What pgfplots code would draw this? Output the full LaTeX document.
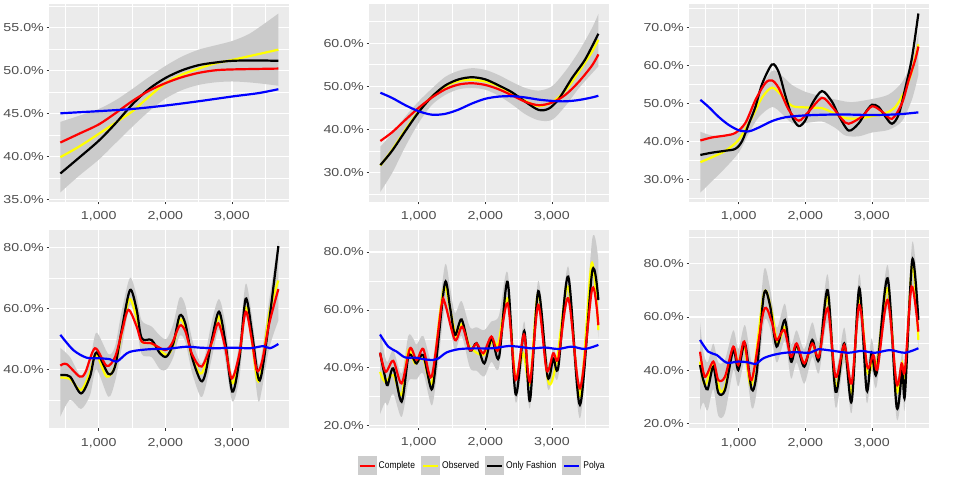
\documentclass[border=0pt]{standalone}
\usepackage{fontspec}
\setmainfont{Liberation Sans}
\usepackage{graphicx}
\usepackage{pgfplots}
\pgfplotsset{compat=1.18}
\usepgfplotslibrary{fillbetween}
\definecolor{panelbg}{HTML}{EBEBEB}
\definecolor{rib}{HTML}{CBCBCB}
\definecolor{txt}{HTML}{4D4D4D}
\definecolor{tk}{HTML}{333333}
\definecolor{keybg}{HTML}{CDCDCD}
\definecolor{cyel}{HTML}{FFFF00}
\definecolor{cred}{HTML}{FF0000}
\definecolor{cblu}{HTML}{0000FF}
\pgfplotsset{
 gg/.style={
  scale only axis, width=240bp,
  axis background/.style={fill=panelbg},
  axis line style={draw=none},
  xmin=259, xmax=3860,
  xtick={1000,2000,3000}, minor xtick={500,1500,2500,3500},
  grid=both,
  major grid style={white, line width=1.1bp},
  minor grid style={white, line width=0.55bp},
  tick align=outside, major tick length=2.7bp, minor tick length=0pt,
  tick pos=left,
  major tick style={draw=tk, line width=0.6bp},
  /pgf/number format/assume math mode=true,
  xticklabel={\scalebox{1.23}[1]{\pgfmathprintnumber[fixed,precision=0,1000 sep={,}]{\tick}}},
  yticklabel={\scalebox{1.23}[1]{\pgfmathprintnumber[fixed,fixed zerofill,precision=1]{\tick}\%}},
  tick label style={font=\fontsize{11.6}{12}\selectfont, text=txt},
  xticklabel style={anchor=north, inner sep=0pt, yshift=-7bp},
  yticklabel style={anchor=east, inner sep=0pt, xshift=-2.6bp},
  every axis plot/.append style={line width=2.2bp, smooth},
 },
 ribU/.style={name path=U, draw=none, forget plot},
 ribL/.style={name path=L, draw=none, forget plot},
 ly/.style={cyel, forget plot},
 lk/.style={black, forget plot},
 lr/.style={cred, forget plot},
 lb/.style={cblu, forget plot},
}
\begin{document}
\begin{tikzpicture}
\path (0bp,0bp) rectangle (960bp,480bp);
% ---------------- Panel 1
\begin{axis}[gg, at={(49.3bp,278.3bp)}, anchor=south west, height=197.7bp,
  ymin=34.72, ymax=57.71, ytick={35,40,45,50,55}, minor ytick={37.5,42.5,47.5,52.5,57.5}]
\addplot[ribU] coordinates {(425,44.0)(700,44.7)(1000,45.5)(1250,46.5)(1500,47.8)(1750,49.2)(2000,50.5)(2250,51.6)(2500,52.4)(2750,52.9)(3000,53.4)(3250,54.2)(3500,55.5)(3696,56.6)};
\addplot[ribL] coordinates {(425,35.8)(700,37.7)(1000,39.6)(1250,41.5)(1500,43.4)(1750,45.2)(2000,46.7)(2250,47.7)(2500,48.3)(2750,48.6)(3000,48.7)(3250,48.6)(3500,48.4)(3696,48.2)};
\addplot[fill=rib, draw=none, forget plot] fill between[of=U and L];
\addplot[ly] coordinates {(425,39.9)(700,41.1)(1000,42.6)(1250,43.9)(1500,45.2)(1750,46.9)(2000,48.5)(2250,49.5)(2500,50.2)(2750,50.8)(3000,51.2)(3350,51.8)(3696,52.4)};
\addplot[lk] coordinates {(425,38.0)(700,39.8)(1000,41.8)(1250,43.8)(1500,46.0)(1750,47.8)(2000,49.1)(2250,50.0)(2500,50.6)(2750,50.9)(3000,51.1)(3350,51.15)(3696,51.1)};
\addplot[lr] coordinates {(425,41.6)(700,42.6)(1000,43.7)(1250,45.0)(1500,46.4)(1750,47.6)(2000,48.5)(2250,49.2)(2500,49.7)(2750,50.0)(3000,50.1)(3696,50.2)};
\addplot[lb] coordinates {(425,45.0)(1000,45.25)(1500,45.5)(2000,45.9)(2500,46.4)(3000,46.95)(3400,47.35)(3696,47.8)};
\end{axis}
% ---------------- Panel 2
\begin{axis}[gg, at={(369.3bp,278.3bp)}, anchor=south west, height=197.7bp,
  ymin=23.2, ymax=69.1, ytick={30,40,50,60}, minor ytick={25,35,45,55,65}]
\addplot[ribU] coordinates {(425,36.0)(600,39.0)(800,43.0)(1000,46.5)(1200,49.5)(1400,52.2)(1600,53.6)(1800,54.2)(2000,53.8)(2200,52.6)(2400,51.0)(2600,49.6)(2800,49.0)(3000,50.0)(3200,53.5)(3400,58.0)(3600,63.5)(3696,66.8)};
\addplot[ribL] coordinates {(425,25.5)(600,29.8)(800,36.0)(1000,41.5)(1200,45.7)(1400,48.0)(1600,49.3)(1800,49.6)(2000,49.2)(2200,47.8)(2400,45.8)(2600,43.5)(2800,42.1)(3000,42.2)(3200,45.4)(3400,49.5)(3600,53.0)(3696,54.6)};
\addplot[fill=rib, draw=none, forget plot] fill between[of=U and L];
\addplot[ly] coordinates {(425,31.6)(600,35.2)(800,39.9)(1000,44.2)(1200,47.6)(1400,50.0)(1600,51.2)(1800,51.5)(2000,51.1)(2200,50.0)(2400,48.4)(2600,46.6)(2800,45.4)(3000,46.3)(3200,49.0)(3400,53.3)(3600,58.0)(3696,60.8)};
\addplot[lk] coordinates {(425,31.7)(600,35.0)(800,39.6)(1000,44.0)(1200,47.6)(1400,50.2)(1600,51.6)(1800,52.1)(2000,51.6)(2200,50.2)(2400,48.6)(2600,46.4)(2800,44.5)(2950,44.8)(3100,47.0)(3300,51.9)(3500,56.3)(3696,62.2)};
\addplot[lr] coordinates {(425,37.3)(600,39.3)(800,42.2)(1000,45.0)(1200,47.4)(1400,49.3)(1600,50.4)(1800,50.7)(2000,50.3)(2200,49.3)(2400,47.9)(2600,46.4)(2800,45.6)(3000,46.2)(3200,48.0)(3400,51.0)(3600,54.8)(3696,57.4)};
\addplot[lb] coordinates {(425,48.5)(600,47.3)(800,45.6)(1000,44.2)(1200,43.4)(1400,43.6)(1600,44.6)(1800,46.0)(2000,47.1)(2200,47.6)(2400,47.7)(2600,47.4)(2800,46.9)(3000,46.6)(3200,46.5)(3400,46.8)(3600,47.4)(3696,47.8)};
\end{axis}
% ---------------- Panel 3
\begin{axis}[gg, at={(689.3bp,278.3bp)}, anchor=south west, height=197.7bp,
  ymin=24.1, ymax=76.1, ytick={30,40,50,60,70}, minor ytick={25,35,45,55,65,75}]
\addplot[ribU] coordinates {(425,42.5)(600,41.5)(800,41.5)(1000,42.5)(1150,47.0)(1300,52.8)(1500,58.5)(1650,57.2)(1800,54.8)(2000,53.0)(2250,51.8)(2500,50.8)(2700,50.3)(3000,51.1)(3250,52.3)(3450,55.5)(3600,61.0)(3696,68.4)};
\addplot[ribL] coordinates {(425,26.5)(600,29.5)(800,33.0)(1000,37.0)(1150,42.0)(1300,46.3)(1500,49.0)(1650,47.2)(1800,44.8)(2000,44.8)(2250,45.2)(2450,43.5)(2600,41.5)(2800,41.3)(3000,42.3)(3250,43.0)(3450,45.3)(3600,51.0)(3696,57.5)};
\addplot[fill=rib, draw=none, forget plot] fill between[of=U and L];
\addplot[ly] coordinates {(425,34.5)(600,35.8)(800,37.5)(1000,40.4)(1200,46.3)(1350,51.5)(1500,54.1)(1650,52.0)(1800,49.3)(2000,48.9)(2250,48.7)(2400,47.6)(2600,46.1)(2800,46.0)(3000,46.6)(3200,47.4)(3350,49.0)(3500,53.5)(3600,58.5)(3696,65.5)};
\addplot[lk] coordinates {(425,36.4)(600,37.0)(800,37.5)(950,38.0)(1050,40.0)(1150,44.5)(1250,49.0)(1350,55.0)(1500,60.2)(1600,58.2)(1700,52.0)(1800,46.5)(1900,44.0)(2000,45.5)(2100,49.8)(2250,53.2)(2400,50.4)(2500,46.8)(2650,42.8)(2800,44.7)(2900,47.5)(3000,49.6)(3100,49.0)(3200,46.5)(3300,44.6)(3400,47.0)(3500,54.0)(3600,62.0)(3696,73.6)};
\addplot[lr] coordinates {(425,40.2)(600,41.0)(800,41.5)(950,42.2)(1100,44.8)(1250,50.8)(1400,55.3)(1500,56.0)(1600,54.0)(1750,48.3)(1900,45.4)(2050,47.8)(2250,51.4)(2400,49.1)(2550,45.8)(2650,44.6)(2850,46.5)(3000,49.2)(3150,47.8)(3300,45.9)(3450,50.0)(3550,56.0)(3650,61.5)(3696,64.9)};
\addplot[lb] coordinates {(425,50.9)(550,49.0)(700,46.4)(850,44.3)(1000,42.9)(1150,42.6)(1300,43.6)(1500,45.3)(1700,46.3)(2000,46.8)(2500,47.05)(3000,46.9)(3400,47.1)(3696,47.6)};
\end{axis}
% ---------------- Panel 4
\begin{axis}[gg, at={(49.3bp,51.7bp)}, anchor=south west, height=198.3bp,
  ymin=20.66, ymax=85.67, ytick={40,60,80}, minor ytick={30,50,70}]
\addplot[ribU] coordinates {(425,47)(570,44)(735,38)(870,43)(965,52)(1145,45)(1245,47.5)(1345,59)(1470,70)(1570,64)(1645,56)(1795,54)(1920,51)(2020,50)(2120,55)(2215,63.5)(2300,61)(2400,50)(2530,42)(2600,45)(2700,56)(2805,63)(2900,55)(3005,38)(3110,49)(3205,68)(3295,58)(3390,42)(3445,45)(3560,63)(3696,82)};
\addplot[ribL] coordinates {(425,24.5)(570,30)(735,27)(870,31.5)(965,40)(1145,31)(1245,36)(1345,47)(1470,61)(1570,54)(1645,45)(1795,44)(1920,40)(2020,40)(2120,44)(2215,51)(2300,49)(2400,39)(2530,31)(2600,34)(2700,44)(2805,53)(2900,43)(3005,29.5)(3110,37)(3205,57)(3295,47)(3390,30)(3445,33)(3560,47)(3696,56)};
\addplot[fill=rib, draw=none, forget plot] fill between[of=U and L];
\addplot[ly] coordinates {(425,37.3)(570,36.8)(735,33.2)(870,39)(965,44.7)(1120,37.6)(1245,41)(1345,52)(1460,63.0)(1570,57)(1645,49.1)(1795,48.5)(2020,44.7)(2120,48)(2215,56.2)(2300,53.5)(2400,44)(2545,38.7)(2700,49)(2805,57.3)(2900,48)(3005,35.4)(3110,44)(3205,60.3)(3295,50)(3380,36.5)(3445,40)(3560,58.4)(3696,69.1)};
\addplot[lk] coordinates {(425,38.1)(570,37.6)(735,32.1)(870,37.6)(965,45.5)(1145,38.5)(1245,40.9)(1345,52.9)(1470,66.0)(1570,59.5)(1645,50.2)(1795,49.6)(1920,45.2)(2020,44.2)(2120,48.5)(2215,57.6)(2300,55.0)(2400,44.0)(2530,36.3)(2600,38.5)(2700,50.0)(2805,58.9)(2900,49.0)(3005,32.7)(3110,43.1)(3205,63.1)(3295,52.9)(3390,37.6)(3445,38.5)(3560,56.2)(3696,80.4)};
\addplot[lr] coordinates {(425,41.2)(520,41.7)(715,37.6)(800,39)(945,46.9)(1120,41.1)(1245,44)(1345,52)(1445,59.5)(1570,54)(1645,49.1)(1795,48.5)(1995,46.3)(2100,48.5)(2215,54.3)(2300,52.5)(2400,45)(2545,40.9)(2700,49)(2795,55.1)(2900,47)(2995,37.0)(3110,45)(3205,58.9)(3295,50)(3370,39.8)(3445,42)(3560,55.1)(3696,66.3)};
\addplot[lb] coordinates {(425,51.3)(620,46.3)(820,43.8)(1020,43.6)(1170,43.3)(1270,42.5)(1420,45.2)(1520,46.0)(1770,46.6)(2020,46.7)(2320,47.4)(2520,47.1)(2770,46.9)(3020,47.1)(3270,46.9)(3470,47.6)(3570,46.9)(3696,48.3)};
\end{axis}
% ---------------- Panel 5
\begin{axis}[gg, at={(369.3bp,52.3bp)}, anchor=south west, height=197.7bp,
  ymin=19.3, ymax=87.6, ytick={20,40,60,80}, minor ytick={30,50,70},
  legend style={at={(0.47,-0.192)}, anchor=center, draw=none, fill=none, legend columns=4,
    font=\fontsize{9.8}{10}\selectfont, /tikz/every even column/.append style={column sep=4bp}},
  legend cell align=left,
  legend image code/.code={\fill[keybg] (0bp,-8.5bp) rectangle (17bp,8.5bp); \draw[#1] (1bp,0bp) -- (16bp,0bp);}]
\addlegendimage{cred, line width=2.2bp}\addlegendentry{\scalebox{0.87}[1]{Complete}}
\addlegendimage{cyel, line width=2.2bp}\addlegendentry{\scalebox{0.87}[1]{Observed}}
\addlegendimage{black, line width=2.2bp}\addlegendentry{\scalebox{0.87}[1]{Only Fashion}}
\addlegendimage{cblu, line width=2.2bp}\addlegendentry{\scalebox{0.87}[1]{Polya}}
\addplot[ribU] coordinates {(420,53)(494,44)(534,42)(619,46)(744,38)(844,51)(919,50)(969,48)(1069,51)(1194,42)(1269,52)(1394,75.5)(1469,68)(1544,59)(1644,63)(1769,54)(1869,54)(1984,53)(2090,56)(2204,58)(2334,73)(2454,38)(2584,56)(2669,35)(2794,70)(2934,42)(3019,47)(3094,45)(3244,75)(3419,35)(3604,84.5)(3696,77)};
\addplot[ribL] coordinates {(420,24)(494,28)(534,27)(619,31)(744,23)(844,35)(919,36)(969,36)(1069,38)(1194,27)(1269,37)(1394,61)(1469,55)(1544,46)(1644,51)(1769,40)(1869,39)(1984,37)(2090,42)(2204,40)(2334,62)(2454,28)(2584,45)(2669,26)(2794,60)(2934,33)(3019,38)(3094,37)(3244,63)(3419,22.5)(3604,68)(3696,50)};
\addplot[fill=rib, draw=none, forget plot] fill between[of=U and L];
\addplot[ly] coordinates {(420,38.6)(494,35.2)(619,37.5)(744,30.6)(844,46.1)(944,41.5)(1069,43.2)(1194,34.6)(1319,58.8)(1394,68.0)(1494,57.6)(1569,50.7)(1654,55.3)(1754,47.9)(1844,45.6)(1969,44.4)(2069,47.9)(2119,49.6)(2194,48.4)(2334,64.0)(2454,36.9)(2569,45.0)(2669,34.6)(2794,65.7)(2944,35.2)(3069,42.1)(3244,68.0)(3419,30.3)(3594,76.0)(3696,53.0)};
\addplot[lk] coordinates {(420,45.2)(494,36.9)(534,34.0)(619,39.8)(744,28.3)(844,43.8)(919,43.2)(969,41.5)(1069,44.4)(1194,32.5)(1269,43.8)(1394,69.4)(1469,61.1)(1544,51.3)(1644,56.7)(1769,46.0)(1869,48.5)(1984,41.5)(2094,50.2)(2204,43.5)(2334,69.7)(2454,30.9)(2584,52.7)(2669,28.6)(2794,66.5)(2934,36.9)(3019,43.2)(3094,40.1)(3244,71.5)(3419,27.2)(3604,73.4)(3696,63.4)};
\addplot[lr] coordinates {(420,45.2)(504,38.6)(619,42.4)(744,34.6)(869,46.7)(969,42.7)(1069,46.5)(1194,36.9)(1344,61.7)(1394,62.3)(1544,49.6)(1654,54.2)(1769,46.1)(1869,48.4)(1969,45.0)(2090,50.8)(2194,46.1)(2334,62.3)(2454,35.8)(2579,51.5)(2669,35.2)(2794,61.7)(2919,39.2)(3019,45.0)(3094,43.2)(3244,64.0)(3419,32.9)(3604,67.4)(3696,54.7)};
\addplot[lb] coordinates {(420,51.5)(544,47.3)(669,45.6)(794,43.6)(944,43.5)(1094,42.9)(1219,42.7)(1294,43.2)(1419,45.3)(1594,46.4)(1794,46.7)(2069,46.7)(2194,47.0)(2344,47.5)(2494,47.3)(2694,46.7)(2894,47.0)(3094,46.5)(3294,47.3)(3494,46.5)(3696,47.9)};
\end{axis}
% ---------------- Panel 6
\begin{axis}[gg, at={(689.3bp,51.7bp)}, anchor=south west, height=198.3bp,
  ymin=18.3, ymax=92.6, ytick={20,40,60,80}, minor ytick={30,50,70,90}]
\addplot[ribU] coordinates {(420,58)(469,47)(534,43)(619,50)(694,43)(794,44)(919,55)(994,48)(1094,57)(1194,43)(1269,47)(1379,77.5)(1469,71)(1569,56)(1694,65)(1784,50)(1869,55)(1984,48)(2104,58)(2204,51)(2334,76)(2454,41)(2584,56)(2694,38)(2809,76)(2919,43)(2994,52)(3069,46)(3234,79.5)(3369,38)(3454,47)(3494,40)(3604,88)(3696,66)};
\addplot[ribL] coordinates {(420,25)(469,28)(534,25)(619,33)(694,23)(794,24)(919,40)(994,34)(1094,43)(1194,26)(1269,32)(1379,58)(1469,56)(1569,43)(1694,51)(1784,37)(1869,43)(1984,35)(2104,45)(2204,39)(2334,58)(2454,26)(2584,43)(2694,24)(2809,60)(2919,28)(2994,40)(3069,34)(3234,63)(3369,22)(3454,33)(3494,26)(3604,70)(3696,48)};
\addplot[fill=rib, draw=none, forget plot] fill between[of=U and L];
\addplot[ly] coordinates {(420,43.3)(494,34.5)(619,42.0)(719,32.6)(794,33.9)(919,48.3)(994,42.6)(1084,49.5)(1194,34.5)(1379,68.9)(1494,62.0)(1584,50.1)(1694,56.4)(1784,44.5)(1869,48.9)(1994,42.6)(2104,50.1)(2204,45.1)(2334,67.6)(2454,33.9)(2584,48.9)(2694,31.4)(2809,67.6)(2929,39.5)(3019,43.9)(3069,41.4)(3234,70.8)(3369,32.6)(3454,42.6)(3494,33.9)(3604,80.1)(3696,51.4)};
\addplot[lk] coordinates {(420,42.0)(469,36.4)(534,32.9)(619,41.4)(694,31.6)(794,32.6)(919,47.6)(994,40.1)(1094,50.1)(1194,32.9)(1269,38.9)(1379,68.6)(1469,64.5)(1569,48.9)(1694,58.9)(1784,43.3)(1869,49.5)(1984,41.4)(2104,51.4)(2204,43.9)(2334,70.1)(2454,32.0)(2584,50.1)(2694,28.3)(2809,70.8)(2919,32.6)(2994,46.6)(3069,38.9)(3234,74.5)(3369,26.4)(3454,40.1)(3494,30.8)(3604,81.4)(3696,58.9)};
\addplot[lr] coordinates {(420,47.0)(494,37.6)(619,43.3)(694,36.4)(794,37.6)(919,48.9)(994,42.0)(1084,50.8)(1194,36.4)(1379,62.6)(1494,58.3)(1569,51.4)(1684,55.1)(1784,45.1)(1869,50.1)(1984,42.6)(2104,50.1)(2204,45.1)(2334,63.3)(2454,37.6)(2584,49.5)(2694,35.1)(2809,64.5)(2929,41.4)(3019,45.8)(3084,40.8)(3234,66.4)(3369,35.1)(3444,42.6)(3494,40.1)(3594,71.4)(3696,54.5)};
\addplot[lb] coordinates {(420,51.4)(544,47.0)(669,45.8)(819,42.9)(994,43.3)(1144,43.0)(1254,42.4)(1369,44.5)(1519,45.8)(1694,46.6)(1869,46.8)(2069,46.6)(2194,47.9)(2394,47.4)(2644,46.6)(2844,47.3)(3044,46.6)(3269,47.6)(3494,46.6)(3696,48.3)};
\end{axis}
\end{tikzpicture}
\end{document}
